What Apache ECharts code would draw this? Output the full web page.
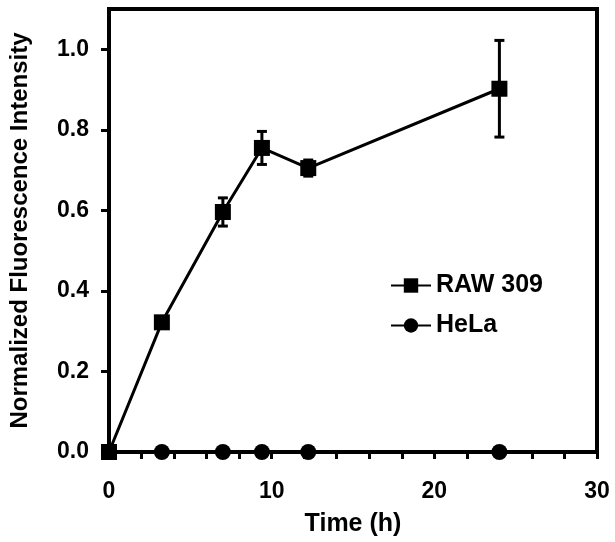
<!DOCTYPE html>
<html>
<head>
<meta charset="utf-8">
<script src="https://cdn.jsdelivr.net/npm/echarts@6/dist/echarts.min.js"></script>
<style>
html,body{margin:0;padding:0;background:#fff;}
#c{width:615px;height:542px;}
</style>
</head>
<body>
<div id="c"></div>
<script>
const times = [0, 3.25, 7.0, 9.4, 12.25, 24];
const rawValues = [0, 0.322, 0.596, 0.755, 0.705, 0.902];
const rawErrors = [0, 0.01, 0.035, 0.041, 0.02, 0.12];
const helaValues = [0, 0, 0, 0, 0, 0];
const xTickValues = [0,2,4,6,8,10,12,14,16,18,20,22,24,26,28,30];
const xLabelValues = [0, 10, 20, 30];
const yTickValues = [0, 0.2, 0.4, 0.6, 0.8, 1.0];

const FONT = '"Liberation Sans", Arial, Helvetica, sans-serif';
const chart = echarts.init(document.getElementById('c'), null, {renderer: 'canvas'});

const rawData = times.map((t, i) => [t, rawValues[i]]);
const helaData = times.map((t, i) => [t, helaValues[i]]);
const errData = times.map((t, i) => [t, rawValues[i] - rawErrors[i], rawValues[i] + rawErrors[i]]);

chart.setOption({
  animation: false,
  backgroundColor: '#fff',
  grid: {left: 105, top: 9, right: 18, bottom: 90, show: true, borderColor: '#000', borderWidth: 4, backgroundColor: 'transparent'},
  legend: {
    orient: 'vertical', left: 385, top: 268, itemGap: 15, itemWidth: 40, itemHeight: 18,
    data: ['RAW 309', 'HeLa'],
    textStyle: {fontFamily: FONT, fontWeight: 'bold', fontSize: 25, color: '#000'}
  },
  xAxis: {
    type: 'value', min: 0, max: 30, interval: 10,
    name: 'Time (h)', nameLocation: 'middle', nameGap: 60,
    nameTextStyle: {fontFamily: FONT, fontWeight: 'bold', fontSize: 25, color: '#000'},
    axisLine: {lineStyle: {color: '#000', width: 4}},
    axisTick: {show: true, customValues: xTickValues, length: 7, lineStyle: {color: '#000', width: 3}},
    axisLabel: {customValues: xLabelValues, margin: 28, fontFamily: FONT, fontWeight: 'bold', fontSize: 23, color: '#000'},
    splitLine: {show: false}
  },
  yAxis: {
    type: 'value', min: 0, max: 1.1, interval: 0.2,
    name: 'Normalized Fluorescence Intensity', nameLocation: 'middle', nameGap: 77,
    nameTextStyle: {fontFamily: FONT, fontWeight: 'bold', fontSize: 24, color: '#000'},
    axisLine: {lineStyle: {color: '#000', width: 4}},
    axisTick: {show: true, customValues: yTickValues, length: 8, lineStyle: {color: '#000', width: 3}},
    axisLabel: {customValues: yTickValues, margin: 20, fontFamily: FONT, fontWeight: 'bold', fontSize: 23, color: '#000',
      formatter: v => v.toFixed(1)},
    splitLine: {show: false}
  },
  series: [
    {
      name: 'HeLa', type: 'line', data: helaData, symbol: 'circle', symbolSize: 16,
      itemStyle: {color: '#000'}, lineStyle: {color: '#000', width: 3}, z: 3
    },
    {
      name: 'errors', type: 'custom', data: errData, z: 4,
      renderItem: function (params, api) {
        const x = api.value(0);
        const lo = api.coord([x, api.value(1)]);
        const hi = api.coord([x, api.value(2)]);
        const hw = 5;
        const style = {stroke: '#000', lineWidth: 3};
        return {type: 'group', children: [
          {type: 'line', shape: {x1: lo[0], y1: lo[1], x2: hi[0], y2: hi[1]}, style: style},
          {type: 'line', shape: {x1: lo[0]-hw, y1: lo[1], x2: lo[0]+hw, y2: lo[1]}, style: style},
          {type: 'line', shape: {x1: hi[0]-hw, y1: hi[1], x2: hi[0]+hw, y2: hi[1]}, style: style}
        ]};
      }
    },
    {
      name: 'RAW 309', type: 'line', data: rawData, symbol: 'rect', symbolSize: 16,
      itemStyle: {color: '#000'}, lineStyle: {color: '#000', width: 3}, z: 5
    }
  ]
});
</script>
</body>
</html>
